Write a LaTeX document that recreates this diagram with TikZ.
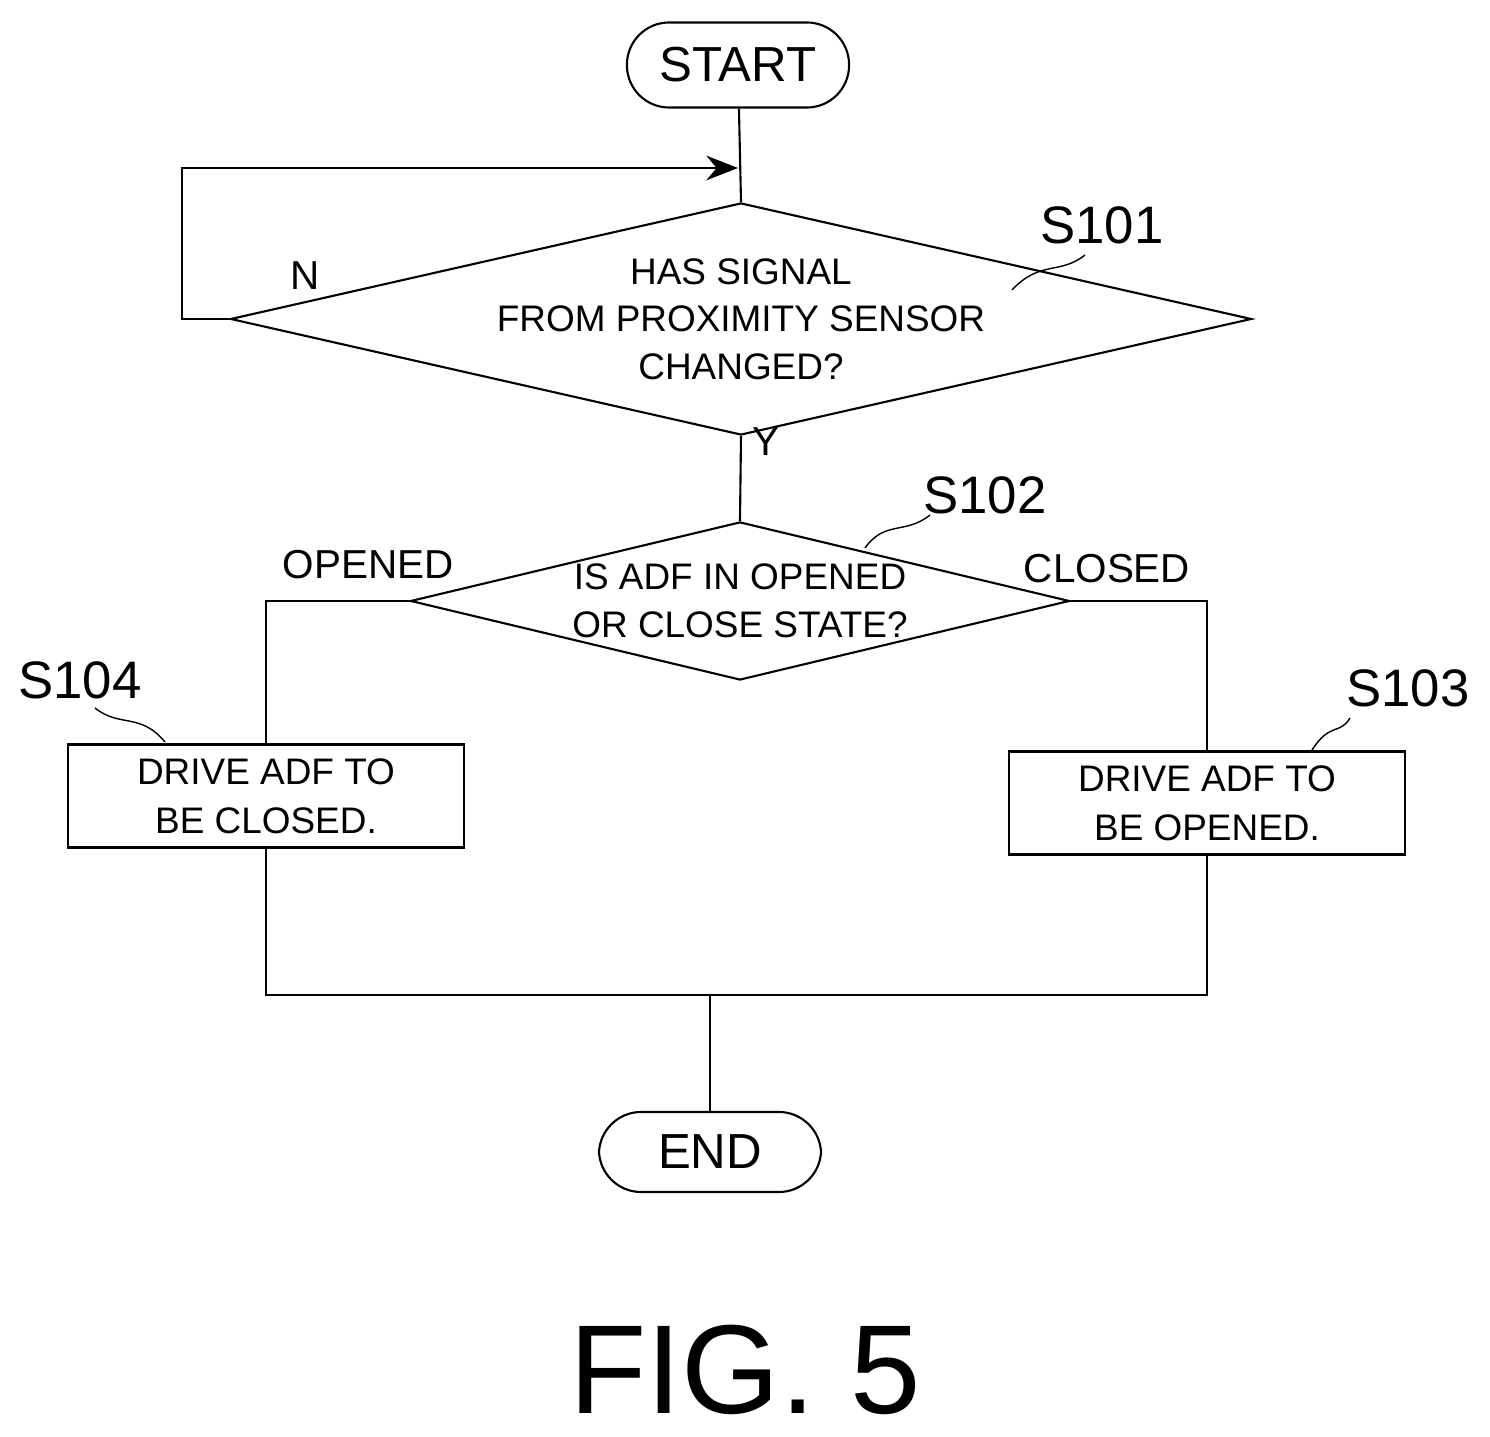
\documentclass[tikz,border=0pt]{standalone}
\usepackage{fontspec}
\setmainfont{Liberation Sans}
\usetikzlibrary{shapes.geometric,arrows.meta}

\begin{document}
\begin{tikzpicture}[x=0.01cm,y=-0.01cm,>={Stealth[length=9pt,width=7pt]},semithick,
    term/.style={draw,rounded corners=12pt,minimum width=2.22cm,font=\fontsize{14}{16}\selectfont},
    process/.style={draw,minimum width=3.96cm,minimum height=1.03cm,align=center,font=\fontsize{10.5}{14}\selectfont},
    decision/.style={draw,diamond,aspect=4.4,inner sep=0pt,align=center,font=\fontsize{10.5}{13.5}\selectfont},
    tag/.style={font=\fontsize{15}{16}\selectfont},
    lbl/.style={font=\fontsize{11.5}{13}\selectfont}]
    \useasboundingbox (0,0) rectangle (1490,1437);
    \node[term,minimum height=0.85cm] (start) at (738,65) {START};
    \node[decision,minimum width=8.07cm,minimum height=1.82cm] (s101) at (741,319) {HAS SIGNAL\\FROM PROXIMITY SENSOR\\CHANGED?};
    \node[decision,minimum width=5.8cm,minimum height=1.58cm] (s102) at (740,601) {IS ADF IN OPENED\\OR CLOSE STATE?};
    \node[process] (s104) at (266,796) {DRIVE ADF TO\\BE CLOSED.};
    \node[process] (s103) at (1207,803) {DRIVE ADF TO\\BE OPENED.};
    \node[term,minimum height=0.8cm] (end) at (710,1152) {END};
    \coordinate (merge) at (710,995);
    \coordinate (loop) at (738,168);
    % connectors
    \draw (start) -- (s101.north);
    \draw[->] (s101.west) -| (182,168) -- (loop);
    \draw (s101.south) -- (s102.north);
    \draw (s102.west) -| (s104.north);
    \draw (s102.east) -| (s103.north);
    \draw (s104.south) |- (merge) -| (s103.south);
    \draw (merge) -- (end);
    % labels
    \node[lbl] at (305,276) {N};
    \node[lbl] at (766,442) {Y};
    \node[lbl] at (368,565) {OPENED};
    \node[lbl] at (1107,569) {CLOSED};
    \node[tag] (t101) at (1102,225) {S101};
    \node[tag] (t102) at (985,495) {S102};
    \node[tag] (t104) at (80,680) {S104};
    \node[tag] (t103) at (1408,688) {S103};
    \draw[thin] (1012,290) .. controls (1040,260) and (1060,275) .. (1085,255);
    \draw[thin] (865,548) .. controls (885,520) and (905,535) .. (930,515);
    \draw[thin] (165,742) .. controls (140,712) and (120,728) .. (95,708);
    \draw[thin] (1312,750) .. controls (1330,722) and (1340,735) .. (1350,718);
    \node[font=\fontsize{36}{40}\selectfont] (fig) at (745,1370) {FIG. 5};
\end{tikzpicture}
\end{document}
